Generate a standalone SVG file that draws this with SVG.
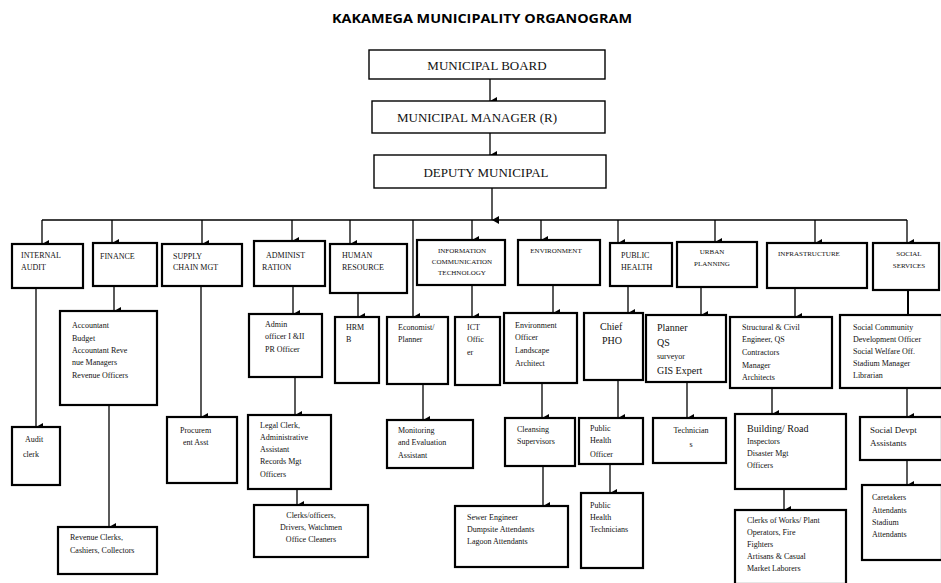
<svg xmlns="http://www.w3.org/2000/svg" width="941" height="583" viewBox="0 0 941 583">
<defs>
<marker id="ah" markerUnits="userSpaceOnUse" markerWidth="9" markerHeight="9" refX="4.5" refY="8" orient="auto-start-reverse" viewBox="0 0 9 9">
<path d="M0.5,1 L8.5,1 L4.5,8 Z" fill="#000"/>
</marker>
<style>
.b{fill:#fff;stroke:#000;stroke-width:2.2}
.bt{fill:#fff;stroke:#000;stroke-width:1.4}
.c{fill:none;stroke:#000;stroke-width:1.3}
.ca{fill:none;stroke:#000;stroke-width:1.3;marker-end:url(#ah)}
text{font-family:"Liberation Serif","Times New Roman",serif;fill:#111}
.t{font-size:13px}
.h{font-size:8px}
.s{font-size:8px}
.m{font-size:10px}
.title{font-family:"Open Sans","Liberation Sans",sans-serif;font-weight:bold;font-size:13px;fill:#000}
.mid{text-anchor:middle}
</style>
</defs>
<rect width="941" height="583" fill="#fff"/>
<text class="title mid" x="482" y="23" textLength="300" lengthAdjust="spacingAndGlyphs">KAKAMEGA MUNICIPALITY ORGANOGRAM</text>

<g id="connectors">
<path class="ca" d="M490,79 V101"/>
<path class="ca" d="M490,133 V155"/>
<path class="ca" d="M492,188 V220"/>
<path class="c" d="M42,220 H907"/>
<path class="ca" d="M42,220 V244"/>
<path class="ca" d="M112,220 V243"/>
<path class="ca" d="M202,220 V244"/>
<path class="ca" d="M292,220 V241"/>
<path class="ca" d="M350,220 V244"/>
<path class="ca" d="M413,220 V317"/>
<path class="ca" d="M472,220 V240"/>
<path class="ca" d="M541,220 V240"/>
<path class="ca" d="M618,220 V243"/>
<path class="ca" d="M715,220 V242"/>
<path class="ca" d="M815,220 V243"/>
<path class="ca" d="M907,220 V243"/>
<path class="ca" d="M36,288 V427"/>
<path class="ca" d="M114,286 V311"/>
<path class="ca" d="M109,405 V527"/>
<path class="ca" d="M201,286 V417"/>
<path class="ca" d="M293,286 V314"/>
<path class="ca" d="M295,377 V415"/>
<path class="ca" d="M297,489 V505"/>
<path class="ca" d="M358,293 V317"/>
<path class="ca" d="M423,384 V420"/>
<path class="ca" d="M472,285 V317"/>
<path class="ca" d="M553,285 V313"/>
<path class="ca" d="M542,383 V418"/>
<path class="ca" d="M543,466 V506"/>
<path class="ca" d="M628,286 V313"/>
<path class="ca" d="M618,380 V418"/>
<path class="ca" d="M610,464 V493"/>
<path class="ca" d="M701,287 V315"/>
<path class="ca" d="M687,382 V418"/>
<path class="ca" d="M795,288 V317"/>
<path class="ca" d="M772,388 V414"/>
<path class="ca" d="M784,489 V510"/>
<path class="c" d="M908,290 V315" style="stroke-width:2"/>
<path class="ca" d="M907,388 V417"/>
<path class="ca" d="M907,460 V485"/>
</g>

<g id="municipal-board"><rect class="bt" x="369" y="50" width="236" height="29"/><text class="t mid" x="487" y="70">MUNICIPAL BOARD</text></g>
<g id="municipal-manager"><rect class="bt" x="372" y="101" width="233" height="32"/><text class="t mid" x="477" y="122">MUNICIPAL MANAGER (R)</text></g>
<g id="deputy-municipal"><rect class="bt" x="374" y="155" width="232" height="33"/><text class="t mid" x="486" y="177">DEPUTY MUNICIPAL</text></g>

<g id="internal-audit"><rect class="b" x="12" y="244" width="71" height="44"/><text class="h" x="21" y="258">INTERNAL</text><text class="h" x="21" y="270">AUDIT</text></g>
<g id="finance"><rect class="b" x="93" y="243" width="64" height="43"/><text class="h" x="100" y="259">FINANCE</text></g>
<g id="supply-chain"><rect class="b" x="162" y="244" width="80" height="42"/><text class="h" x="173" y="259">SUPPLY</text><text class="h" x="173" y="270">CHAIN MGT</text></g>
<g id="administration"><rect class="b" x="254" y="241" width="71" height="45"/><text class="h" x="266" y="258">ADMINIST</text><text class="h" x="262" y="270">RATION</text></g>
<g id="human-resource"><rect class="b" x="330" y="244" width="77" height="49"/><text class="h" x="342" y="258">HUMAN</text><text class="h" x="342" y="270">RESOURCE</text></g>
<g id="ict"><rect class="b" x="417" y="240" width="88" height="45"/><text class="h mid" x="462" y="253" style="font-size:7px">INFORMATION</text><text class="h mid" x="462" y="264" style="font-size:7px">COMMUNICATION</text><text class="h mid" x="462" y="275" style="font-size:7px">TECHNOLOGY</text></g>
<g id="environment"><rect class="b" x="518" y="240" width="82" height="45"/><text class="h mid" x="556" y="253" style="font-size:7px">ENVIRONMENT</text></g>
<g id="public-health"><rect class="b" x="610" y="243" width="62" height="43"/><text class="h" x="621" y="258">PUBLIC</text><text class="h" x="621" y="270">HEALTH</text></g>
<g id="urban-planning"><rect class="b" x="677" y="242" width="80" height="45"/><text class="h mid" x="712" y="254" style="font-size:7px">URBAN</text><text class="h mid" x="712" y="266" style="font-size:7px">PLANNING</text></g>
<g id="infrastructure"><rect class="b" x="767" y="243" width="100" height="45"/><text class="h" x="778" y="256" style="font-size:7px">INFRASTRUCTURE</text></g>
<g id="social-services"><rect class="b" x="873" y="243" width="66" height="47"/><text class="h mid" x="909" y="256" style="font-size:7px">SOCIAL</text><text class="h mid" x="909" y="268" style="font-size:7px">SERVICES</text></g>

<g id="audit-clerk"><rect class="b" x="12" y="427" width="48" height="58"/><text class="s" x="25" y="442">Audit</text><text class="s" x="23" y="457">clerk</text></g>
<g id="finance-officers"><rect class="b" x="60" y="311" width="97" height="94"/><text class="s" x="72" y="328">Accountant</text><text class="s" x="72" y="341">Budget</text><text class="s" x="72" y="353">Accountant Reve</text><text class="s" x="72" y="365">nue Managers</text><text class="s" x="72" y="378">Revenue Officers</text></g>
<g id="revenue-clerks"><rect class="b" x="58" y="527" width="99" height="47"/><text class="s" x="70" y="540">Revenue Clerks,</text><text class="s" x="70" y="553">Cashiers, Collectors</text></g>
<g id="procurement"><rect class="b" x="167" y="417" width="70" height="66"/><text class="s" x="180" y="433">Procurem</text><text class="s" x="183" y="445">ent Asst</text></g>
<g id="admin-officers"><rect class="b" x="249" y="314" width="73" height="63"/><text class="s" x="265" y="327">Admin</text><text class="s" x="265" y="339">officer I &amp;II</text><text class="s" x="265" y="352">PR Officer</text></g>
<g id="admin-assistants"><rect class="b" x="248" y="415" width="83" height="74"/><text class="s" x="260" y="428">Legal Clerk,</text><text class="s" x="260" y="440">Administrative</text><text class="s" x="260" y="452">Assistant</text><text class="s" x="260" y="464">Records Mgt</text><text class="s" x="260" y="477">Officers</text></g>
<g id="admin-support"><rect class="b" x="254" y="505" width="114" height="52"/><text class="s mid" x="311" y="518">Clerks/officers,</text><text class="s mid" x="311" y="530">Drivers, Watchmen</text><text class="s mid" x="311" y="542">Office Cleaners</text></g>
<g id="hrm"><rect class="b" x="335" y="317" width="44" height="66"/><text class="s" x="346" y="330">HRM</text><text class="s" x="346" y="342">B</text></g>
<g id="economist"><rect class="b" x="387" y="317" width="61" height="67"/><text class="s" x="398" y="330">Economist/</text><text class="s" x="398" y="342">Planner</text></g>
<g id="monitoring-evaluation"><rect class="b" x="387" y="420" width="86" height="48"/><text class="s" x="398" y="433">Monitoring</text><text class="s" x="398" y="445">and Evaluation</text><text class="s" x="398" y="458">Assistant</text></g>
<g id="ict-officer"><rect class="b" x="455" y="317" width="45" height="68"/><text class="s" x="467" y="330">ICT</text><text class="s" x="467" y="342">Offic</text><text class="s" x="467" y="355">er</text></g>
<g id="environment-officer"><rect class="b" x="504" y="313" width="73" height="70"/><text class="s" x="515" y="328">Environment</text><text class="s" x="515" y="340">Officer</text><text class="s" x="515" y="353">Landscape</text><text class="s" x="515" y="366">Architect</text></g>
<g id="cleansing-supervisors"><rect class="b" x="505" y="418" width="70" height="48"/><text class="s" x="517" y="432">Cleansing</text><text class="s" x="517" y="444">Supervisors</text></g>
<g id="sewer-engineer"><rect class="b" x="455" y="506" width="113" height="61"/><text class="s" x="467" y="520">Sewer Engineer</text><text class="s" x="467" y="532">Dumpsite Attendants</text><text class="s" x="467" y="544">Lagoon Attendants</text></g>
<g id="chief-pho"><rect class="b" x="584" y="313" width="59" height="67"/><text class="m" x="600" y="330">Chief</text><text class="m" x="602" y="344">PHO</text></g>
<g id="public-health-officer"><rect class="b" x="579" y="418" width="64" height="46"/><text class="s" x="590" y="431">Public</text><text class="s" x="590" y="443">Health</text><text class="s" x="590" y="457">Officer</text></g>
<g id="public-health-technicians"><rect class="b" x="581" y="493" width="62" height="75"/><text class="s" x="590" y="508">Public</text><text class="s" x="590" y="520">Health</text><text class="s" x="590" y="532">Technicians</text></g>
<g id="planner"><rect class="b" x="646" y="315" width="80" height="67"/><text class="m" x="657" y="331">Planner</text><text class="m" x="657" y="346">QS</text><text class="s" x="657" y="359">surveyor</text><text class="m" x="657" y="374">GIS Expert</text></g>
<g id="technicians"><rect class="b" x="653" y="418" width="73" height="45"/><text class="s mid" x="691" y="433">Technician</text><text class="s mid" x="691" y="447">s</text></g>
<g id="engineers"><rect class="b" x="730" y="317" width="102" height="71"/><text class="s" x="742" y="330">Structural &amp; Civil</text><text class="s" x="742" y="342">Engineer, QS</text><text class="s" x="742" y="355">Contractors</text><text class="s" x="742" y="368">Manager</text><text class="s" x="742" y="380">Architects</text></g>
<g id="inspectors"><rect class="b" x="735" y="414" width="111" height="75"/><text class="m" x="747" y="432">Building/ Road</text><text class="s" x="747" y="444">Inspectors</text><text class="s" x="747" y="456">Disaster Mgt</text><text class="s" x="747" y="468">Officers</text></g>
<g id="clerks-of-works"><rect class="b" x="735" y="510" width="111" height="74"/><text class="s" x="747" y="523">Clerks of Works/ Plant</text><text class="s" x="747" y="535">Operators, Fire</text><text class="s" x="747" y="547">Fighters</text><text class="s" x="747" y="559">Artisans &amp; Casual</text><text class="s" x="747" y="571">Market Laborers</text></g>
<g id="social-officers"><rect class="b" x="840" y="315" width="102" height="73"/><text class="s" x="853" y="330">Social Community</text><text class="s" x="853" y="342">Development Officer</text><text class="s" x="853" y="354">Social Welfare Off.</text><text class="s" x="853" y="366">Stadium Manager</text><text class="s" x="853" y="378">Librarian</text></g>
<g id="social-assistants"><rect class="b" x="860" y="417" width="82" height="43"/><text class="m" x="870" y="433" style="font-size:9px">Social Devpt</text><text class="m" x="870" y="446" style="font-size:9px">Assistants</text></g>
<g id="caretakers"><rect class="b" x="862" y="485" width="80" height="75"/><text class="s" x="872" y="500">Caretakers</text><text class="s" x="872" y="513">Attendants</text><text class="s" x="872" y="525">Stadium</text><text class="s" x="872" y="537">Attendants</text></g>
</svg>
